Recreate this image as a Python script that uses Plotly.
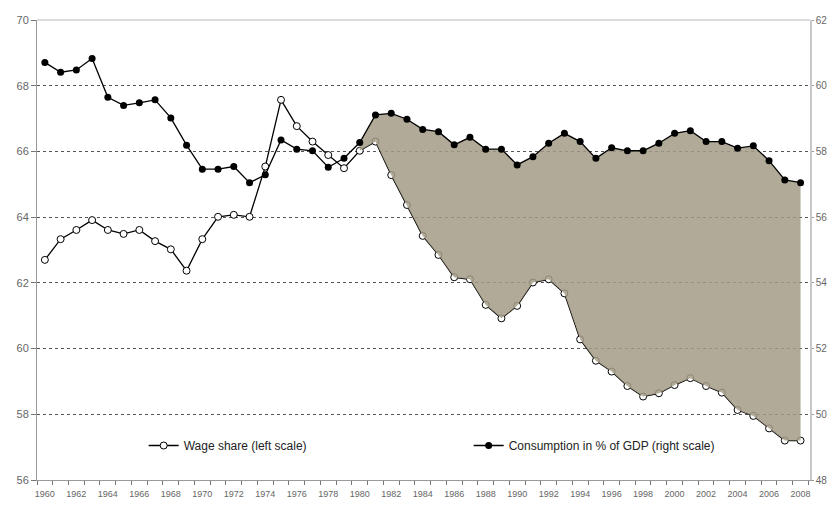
import plotly.graph_objects as go

# Years on the category axis
years = list(range(1960, 2009))

# Wage share, left scale
wage_share = [
    62.70, 63.33, 63.61, 63.91, 63.61, 63.49, 63.61, 63.27, 63.02, 62.37,
    63.33, 64.01, 64.07, 64.01, 65.54, 67.57, 66.77, 66.30, 65.89, 65.49,
    66.02, 66.30, 65.28, 64.37, 63.43, 62.85, 62.17, 62.11, 61.33, 60.92,
    61.30, 62.01, 62.11, 61.68, 60.28, 59.63, 59.30, 58.86, 58.54, 58.64,
    58.89, 59.10, 58.86, 58.66, 58.13, 57.95, 57.57, 57.20, 57.20,
]

# Consumption in % of GDP, right scale
consumption = [
    60.71, 60.41, 60.48, 60.83, 59.65, 59.40, 59.48, 59.57, 59.02, 58.19,
    57.46, 57.46, 57.54, 57.05, 57.29, 58.35, 58.07, 58.02, 57.52, 57.79,
    58.27, 59.11, 59.16, 58.98, 58.67, 58.60, 58.20, 58.43, 58.07, 58.07,
    57.59, 57.84, 58.25, 58.55, 58.30, 57.79, 58.11, 58.02, 58.02, 58.25,
    58.55, 58.63, 58.30, 58.30, 58.10, 58.17, 57.72, 57.13, 57.05,
]

left_ticks = [56, 58, 60, 62, 64, 66, 68, 70]
right_ticks = [48, 50, 52, 54, 56, 58, 60, 62]
year_ticks = list(range(1960, 2009, 2))

FILL_FROM = 1980
# shift of the left scale against the right one (both span 14 points)
offset = right_ticks[0] - left_ticks[0]

i0 = years.index(FILL_FROM)
fill_years = years[i0:]
wage_on_right = [w + offset for w in wage_share[i0:]]

fig = go.Figure()

# shaded gap between the two lines
fig.add_trace(go.Scatter(
    x=fill_years, y=wage_on_right, yaxis="y2",
    mode="lines", line=dict(width=0), showlegend=False, hoverinfo="skip",
))
fig.add_trace(go.Scatter(
    x=fill_years, y=consumption[i0:], yaxis="y2",
    mode="lines", line=dict(width=0), fill="tonexty",
    fillcolor="rgba(163,155,134,0.85)", showlegend=False, hoverinfo="skip",
))

fig.add_trace(go.Scatter(
    x=years, y=wage_share, name="Wage share (left scale)",
    mode="lines+markers",
    line=dict(color="black", width=1.3),
    marker=dict(symbol="circle", size=7, color="white",
                line=dict(color="black", width=1)),
))
fig.add_trace(go.Scatter(
    x=years, y=consumption, name="Consumption in % of GDP (right scale)",
    yaxis="y2", mode="lines+markers",
    line=dict(color="black", width=1.3),
    marker=dict(symbol="circle", size=7, color="black"),
))

tick_font = dict(family="Liberation Sans, Arial, sans-serif", size=11, color="#666666")

# page body has an 8px margin, so the figure is sized to fit the window
fig.update_layout(
    width=827, height=493,
    margin=dict(l=29, r=25, t=12, b=21, autoexpand=False),
    paper_bgcolor="white", plot_bgcolor="white",
    font=dict(family="Liberation Sans, Arial, sans-serif", size=11, color="#333333"),
    xaxis=dict(
        range=[1959.5, 2008.6], automargin=False,
        tickvals=year_ticks, ticks="", tickfont=dict(tick_font, size=9),
        ticklabelstandoff=5,
        showgrid=False, zeroline=False,
        showline=True, linecolor="#9a9a9a", linewidth=1, mirror=False,
        minor=dict(tick0=1959.5, dtick=1, ticks="outside", ticklen=4,
                   tickcolor="#777777", showgrid=False),
    ),
    yaxis=dict(
        range=[left_ticks[0], left_ticks[-1]], tickvals=left_ticks,
        automargin=False,
        ticks="outside", ticklen=5, tickcolor="#777777", tickfont=tick_font,
        showline=True, linecolor="#9a9a9a", linewidth=1,
        showgrid=True, gridcolor="#555555", griddash="dot", gridwidth=1,
        zeroline=False,
    ),
    yaxis2=dict(
        range=[right_ticks[0], right_ticks[-1]], tickvals=right_ticks,
        overlaying="y", side="right", automargin=False,
        ticks="outside", ticklen=2, tickcolor="#999999",
        tickfont=dict(tick_font, size=10),
        showline=True, linecolor="#c8c8c8", linewidth=1.5,
        showgrid=False, zeroline=False,
    ),
    legend=dict(
        orientation="h", x=0.138, y=0.075, xanchor="left", yanchor="middle",
        traceorder="normal", itemwidth=30,
        bgcolor="rgba(0,0,0,0)", font=dict(size=12, color="#222222"),
        entrywidth=280, entrywidthmode="pixels",
    ),
    shapes=[dict(type="line", xref="paper", yref="paper", x0=0, x1=1, y0=1, y1=1,
                 line=dict(color="#d0d0d0", width=1.5))],
)

fig.write_html("out.html")
